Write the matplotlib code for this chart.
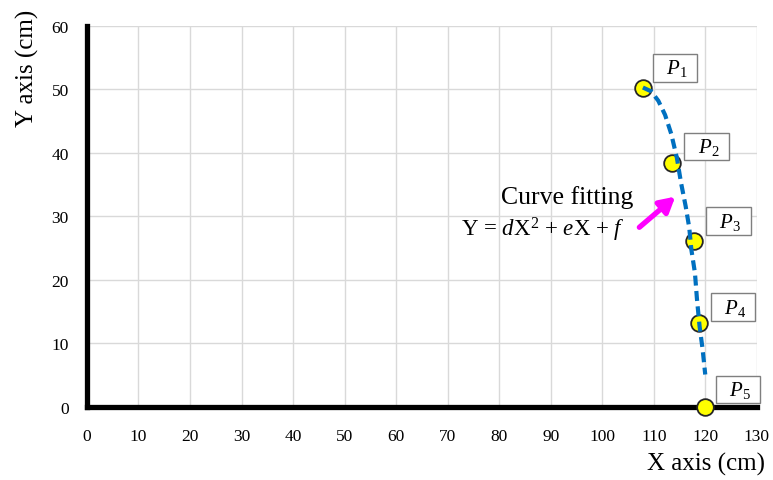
import numpy as np
import matplotlib
matplotlib.use("Agg")
import matplotlib.pyplot as plt

plt.rcParams['font.family'] = ['Liberation Serif', 'DejaVu Serif']
plt.rcParams['mathtext.fontset'] = 'custom'
plt.rcParams['mathtext.rm'] = 'Liberation Serif'
plt.rcParams['mathtext.it'] = 'Liberation Serif:italic'

# measured points (cm)
px = [107.9, 113.6, 117.8, 118.7, 120.0]
py = [50.3, 38.4, 26.2, 13.2, 0.0]
labels = ['1', '2', '3', '4', '5']

# fitted curve
cx = [107.9, 109.5, 110.9, 112.2, 113.4, 114.5, 115.3, 116.2, 116.9, 117.3, 118.0, 118.4, 118.9, 119.5, 120.0]
cy = [50.3, 49.7, 48.2, 46.0, 43.0, 39.2, 35.3, 31.6, 28.2, 24.8, 21.1, 16.9, 12.7, 9.0, 5.1]

xticks = list(range(0, 131, 10))
yticks = list(range(0, 61, 10))

fig = plt.figure(figsize=(7.73, 4.81), dpi=100)
ax = fig.add_axes([0.1125, 0.152, 0.8665, 0.792])
ax.set_xlim(0, 130)
ax.set_ylim(0, 60)
ax.set_xticks(xticks)
ax.set_yticks(yticks)
ax.grid(True, color='#d9d9d9', linewidth=1.0)
ax.set_axisbelow(True)
for s in ['top', 'right']:
    ax.spines[s].set_visible(False)
for s in ['left', 'bottom']:
    ax.spines[s].set_linewidth(3.8)
    ax.spines[s].set_zorder(3)
ax.tick_params(length=0, labelsize=12.5)
ax.tick_params(axis='x', pad=15)
ax.tick_params(axis='y', pad=13)

ax.plot(px, py, 'o', ms=12, mfc='#ffff00', mec='#262626', mew=1.3, zorder=4, clip_on=False)
ax.plot(cx, cy, color='#0070c0', lw=3, ls=(0, (2.4, 1.3)), zorder=5)

offs = [(9.5, 6.5), (11, 4.5), (11, 6.5), (11, 4), (10, 5)]
for x, y, lb, (dx, dy) in zip(px, py, labels, offs):
    ax.annotate('  $P_{' + lb + '}$  ', (x, y), xytext=(dx, dy), textcoords='offset points',
                fontsize=15, ha='left', va='bottom', zorder=6,
                bbox=dict(boxstyle='square,pad=0.15', fc='white', ec='#7f7f7f', lw=1))

ax.annotate('', xy=(114.6, 33.4), xytext=(106.8, 28.0),
            arrowprops=dict(arrowstyle='-|>,head_length=0.9,head_width=0.5', color='#ff00ff', lw=3.8), zorder=6)
ax.text(93.2, 33.2, 'Curve fitting', fontsize=18.5, ha='center', va='center')
ax.text(104.5, 28.0, r'Y = $d$X$^2$ + $e$X + $f$', fontsize=16.5, ha='right', va='center')

fig.text(0.035, 0.98, 'Y axis (cm)', rotation=90, fontsize=18, ha='center', va='top')
fig.text(0.99, 0.035, 'X axis (cm)', fontsize=18, ha='right', va='center')

fig.savefig('out.png', dpi=100)
